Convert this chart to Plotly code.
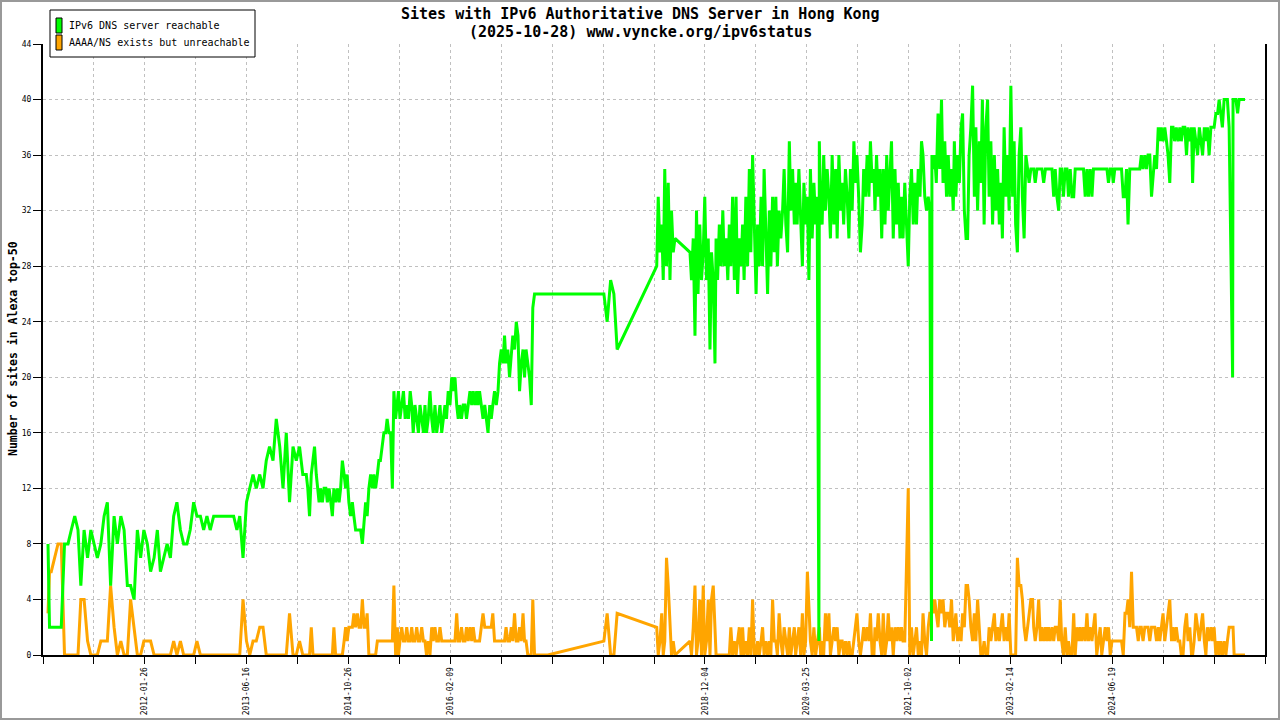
import pandas as pd
import plotly.graph_objects as go

MONO = "DejaVu Sans Mono"
GREEN = "#00ff00"
ORANGE = "#ffa500"

# --- sample dates (twice a month to 2013, weekly-ish afterwards) ---
dates = [
    "2010-10-01", "2010-10-08", "2010-10-16", "2010-11-01", "2010-11-16", "2010-12-01", "2010-12-16",
    "2011-01-01", "2011-01-16", "2011-02-01", "2011-02-16", "2011-03-01", "2011-03-16", "2011-04-01", "2011-04-16",
    "2011-05-01", "2011-05-16", "2011-06-01", "2011-06-16", "2011-07-01", "2011-07-16", "2011-08-01", "2011-08-16",
    "2011-09-01", "2011-09-16", "2011-10-01", "2011-10-16", "2011-11-01", "2011-11-16", "2011-12-01", "2011-12-16",
    "2012-01-01", "2012-01-16", "2012-02-01", "2012-02-16", "2012-03-01", "2012-03-16", "2012-04-01", "2012-04-16",
    "2012-05-01", "2012-05-16", "2012-06-01", "2012-06-16", "2012-07-01", "2012-07-16", "2012-08-01", "2012-08-16",
    "2012-09-01", "2012-09-16", "2012-10-01", "2012-10-16", "2012-11-01", "2012-11-16", "2012-12-01", "2012-12-16",
    "2013-01-01", "2013-01-16", "2013-02-01", "2013-02-16", "2013-03-01", "2013-03-16", "2013-04-01", "2013-04-16",
    "2013-05-01", "2013-05-16", "2013-06-01", "2013-06-16", "2013-07-01", "2013-07-16", "2013-08-01", "2013-08-16",
    "2013-09-01", "2013-09-16", "2013-10-01", "2013-10-16", "2013-11-01", "2013-11-16", "2013-12-01", "2013-12-16",
    "2014-01-01", "2014-01-08", "2014-01-16", "2014-01-24", "2014-02-01", "2014-02-08", "2014-02-16", "2014-02-24",
    "2014-03-01", "2014-03-08", "2014-03-16", "2014-03-24", "2014-04-01", "2014-04-08", "2014-04-16", "2014-04-24",
    "2014-05-01", "2014-05-08", "2014-05-16", "2014-05-24", "2014-06-01", "2014-06-08", "2014-06-16", "2014-06-24",
    "2014-07-01", "2014-07-08", "2014-07-16", "2014-07-24", "2014-08-01", "2014-08-08", "2014-08-16", "2014-08-24",
    "2014-09-01", "2014-09-08", "2014-09-16", "2014-09-24", "2014-10-01", "2014-10-08", "2014-10-16", "2014-10-24",
    "2014-11-01", "2014-11-08", "2014-11-16", "2014-11-24", "2014-12-01", "2014-12-08", "2014-12-16", "2014-12-24",
    "2015-01-01", "2015-01-08", "2015-01-16", "2015-01-24", "2015-02-01", "2015-02-08", "2015-02-16", "2015-02-24",
    "2015-03-01", "2015-03-08", "2015-03-16", "2015-03-24", "2015-04-01", "2015-04-08", "2015-04-16", "2015-04-24",
    "2015-05-01", "2015-05-08", "2015-05-16", "2015-05-24", "2015-06-01", "2015-06-08", "2015-06-16", "2015-06-24",
    "2015-07-01", "2015-07-08", "2015-07-16", "2015-07-24", "2015-08-01", "2015-08-08", "2015-08-16", "2015-08-24",
    "2015-09-01", "2015-09-08", "2015-09-16", "2015-09-24", "2015-10-01", "2015-10-08", "2015-10-16", "2015-10-24",
    "2015-11-01", "2015-11-08", "2015-11-16", "2015-11-24", "2015-12-01", "2015-12-08", "2015-12-16", "2015-12-24",
    "2016-01-01", "2016-01-08", "2016-01-16", "2016-01-24", "2016-02-01", "2016-02-08", "2016-02-16", "2016-02-24",
    "2016-03-01", "2016-03-08", "2016-03-16", "2016-03-24", "2016-04-01", "2016-04-08", "2016-04-16", "2016-04-24",
    "2016-05-01", "2016-05-08", "2016-05-16", "2016-05-24", "2016-06-01", "2016-06-08", "2016-06-16", "2016-06-24",
    "2016-07-01", "2016-07-08", "2016-07-16", "2016-07-24", "2016-08-01", "2016-08-08", "2016-08-16", "2016-08-24",
    "2016-09-01", "2016-09-08", "2016-09-16", "2016-09-24", "2016-10-01", "2016-10-08", "2016-10-16", "2016-10-24",
    "2016-11-01", "2016-11-08", "2016-11-16", "2016-11-24", "2016-12-01", "2016-12-08", "2016-12-16", "2016-12-24",
    "2017-01-01", "2017-01-16",
    "2017-10-01", "2017-10-16", "2017-11-01", "2017-11-16", "2017-12-01",
    "2018-06-01", "2018-06-08", "2018-06-16", "2018-06-24", "2018-07-01", "2018-07-08", "2018-07-16", "2018-07-24",
    "2018-08-01", "2018-08-08", "2018-08-16", "2018-08-24",
    "2018-11-01", "2018-11-08", "2018-11-16", "2018-11-24", "2018-12-01", "2018-12-08", "2018-12-16", "2018-12-24",
    "2019-01-01", "2019-01-08", "2019-01-16", "2019-01-24", "2019-02-01", "2019-02-08", "2019-02-16", "2019-02-24",
    "2019-03-01", "2019-03-08", "2019-03-16", "2019-03-24", "2019-04-01", "2019-04-08", "2019-04-16", "2019-04-24",
    "2019-05-01", "2019-05-08", "2019-05-16", "2019-05-24", "2019-06-01", "2019-06-08", "2019-06-16", "2019-06-24",
    "2019-07-01", "2019-07-08", "2019-07-16", "2019-07-24", "2019-08-01", "2019-08-08", "2019-08-16", "2019-08-24",
    "2019-09-01", "2019-09-08", "2019-09-16", "2019-09-24", "2019-10-01", "2019-10-08", "2019-10-16", "2019-10-24",
    "2019-11-01", "2019-11-08", "2019-11-16", "2019-11-24", "2019-12-01", "2019-12-08", "2019-12-16", "2019-12-24",
    "2020-01-01", "2020-01-08", "2020-01-16", "2020-01-24", "2020-02-01", "2020-02-08", "2020-02-16", "2020-02-24",
    "2020-03-01", "2020-03-08", "2020-03-16", "2020-03-24", "2020-04-01", "2020-04-08", "2020-04-16", "2020-04-24",
    "2020-05-01", "2020-05-08", "2020-05-16", "2020-05-24", "2020-06-01", "2020-06-08", "2020-06-16", "2020-06-18",
    "2020-06-24",
    "2020-07-01", "2020-07-08", "2020-07-16", "2020-07-24", "2020-08-01", "2020-08-08", "2020-08-16", "2020-08-24",
    "2020-09-01", "2020-09-08", "2020-09-16", "2020-09-24", "2020-10-01", "2020-10-08", "2020-10-16", "2020-10-24",
    "2020-11-01", "2020-11-08", "2020-11-16", "2020-11-24", "2020-12-01", "2020-12-08", "2020-12-16", "2020-12-24",
    "2021-01-01", "2021-01-08", "2021-01-16", "2021-01-24", "2021-02-01", "2021-02-08", "2021-02-16", "2021-02-24",
    "2021-03-01", "2021-03-08", "2021-03-16", "2021-03-24", "2021-04-01", "2021-04-08", "2021-04-16", "2021-04-24",
    "2021-05-01", "2021-05-08", "2021-05-16", "2021-05-24", "2021-06-01", "2021-06-08", "2021-06-16", "2021-06-24",
    "2021-07-01", "2021-07-08", "2021-07-16", "2021-07-24", "2021-08-01", "2021-08-08", "2021-08-16", "2021-08-24",
    "2021-09-01", "2021-09-08", "2021-09-16", "2021-09-24", "2021-10-01", "2021-10-08", "2021-10-16", "2021-10-24",
    "2021-11-01", "2021-11-08", "2021-11-16", "2021-11-18", "2021-11-24",
    "2021-12-01", "2021-12-08", "2021-12-16", "2021-12-24",
    "2022-01-01", "2022-01-08", "2022-01-16", "2022-01-24", "2022-02-01", "2022-02-08", "2022-02-16", "2022-02-24",
    "2022-03-01", "2022-03-08", "2022-03-16", "2022-03-24", "2022-04-01", "2022-04-08", "2022-04-16", "2022-04-24",
    "2022-05-01", "2022-05-08", "2022-05-16", "2022-05-24", "2022-06-01", "2022-06-08", "2022-06-16", "2022-06-24",
    "2022-07-01", "2022-07-08", "2022-07-16", "2022-07-24", "2022-08-01", "2022-08-08", "2022-08-16", "2022-08-24",
    "2022-09-01", "2022-09-08", "2022-09-16", "2022-09-24", "2022-10-01", "2022-10-08", "2022-10-16", "2022-10-24",
    "2022-11-01", "2022-11-08", "2022-11-16", "2022-11-24", "2022-12-01", "2022-12-08", "2022-12-16", "2022-12-24",
    "2023-01-01", "2023-01-08", "2023-01-16", "2023-01-24", "2023-02-01", "2023-02-08", "2023-02-16", "2023-02-24",
    "2023-03-01", "2023-03-08", "2023-03-16", "2023-03-24", "2023-04-01", "2023-04-08", "2023-04-16", "2023-04-24",
    "2023-05-01", "2023-05-08", "2023-05-16", "2023-05-24", "2023-06-01", "2023-06-08", "2023-06-16", "2023-06-24",
    "2023-07-01", "2023-07-08", "2023-07-16", "2023-07-24", "2023-08-01", "2023-08-08", "2023-08-16", "2023-08-24",
    "2023-09-01", "2023-09-08", "2023-09-16", "2023-09-24", "2023-10-01", "2023-10-08", "2023-10-16", "2023-10-24",
    "2023-11-01", "2023-11-08", "2023-11-16", "2023-11-24", "2023-12-01", "2023-12-08", "2023-12-16", "2023-12-24",
    "2024-01-01", "2024-01-08", "2024-01-16", "2024-01-24", "2024-02-01", "2024-02-08", "2024-02-16", "2024-02-24",
    "2024-03-01", "2024-03-08", "2024-03-16", "2024-03-24", "2024-04-01", "2024-04-08", "2024-04-16", "2024-04-24",
    "2024-05-01", "2024-05-08", "2024-05-16", "2024-05-24", "2024-06-01", "2024-06-08", "2024-06-16", "2024-06-24",
    "2024-07-01", "2024-07-08", "2024-07-16", "2024-07-24", "2024-08-01", "2024-08-08", "2024-08-16", "2024-08-24",
    "2024-09-01", "2024-09-08", "2024-09-16", "2024-09-24", "2024-10-01", "2024-10-08", "2024-10-16", "2024-10-24",
    "2024-11-01", "2024-11-08", "2024-11-16", "2024-11-24", "2024-12-01", "2024-12-08", "2024-12-16", "2024-12-24",
    "2025-01-01", "2025-01-08", "2025-01-16", "2025-01-24", "2025-02-01", "2025-02-08", "2025-02-16", "2025-02-24",
    "2025-03-01", "2025-03-08", "2025-03-16", "2025-03-24", "2025-04-01", "2025-04-08", "2025-04-16", "2025-04-24",
    "2025-05-01", "2025-05-08", "2025-05-16", "2025-05-24", "2025-06-01", "2025-06-08", "2025-06-16", "2025-06-24",
    "2025-07-01", "2025-07-08", "2025-07-16", "2025-07-24", "2025-08-01", "2025-08-08", "2025-08-16", "2025-08-24",
    "2025-09-01", "2025-09-03", "2025-09-08", "2025-09-16", "2025-09-24",
    "2025-10-01", "2025-10-08", "2025-10-16", "2025-10-24", "2025-10-28",
]

# IPv6 DNS server reachable
reachable = [
    8, 2, 2, 2, 2, 2, 8,
    8, 9, 10, 9, 5, 9, 7, 9, 8, 7, 8, 10, 11, 5, 10, 8, 10, 9, 5, 5, 4, 9, 7, 9,
    8, 6, 7, 9, 6, 7, 8, 7, 10, 11, 9, 8, 8, 9, 11, 10, 10, 9, 10, 9, 10, 10, 10, 10,
    10, 10, 10, 9, 10, 7, 11, 12, 13, 12, 13, 12, 14, 15, 14, 17, 15, 12, 16, 11, 15, 14, 15, 13,
    # 2014
    13, 12, 10, 13, 14, 15, 13, 12, 11, 12, 11, 12, 12, 11, 12, 11,
    10, 12, 11, 12, 11, 12, 14, 13, 12, 13, 11, 10, 11, 10, 9, 9,
    9, 9, 8, 10, 11, 10, 12, 13, 12, 13, 12, 13, 14, 14, 15, 16,
    # 2015
    16, 17, 16, 16, 12, 19, 17, 18, 19, 17, 18, 19, 17, 18, 17, 19,
    18, 16, 18, 17, 16, 18, 17, 16, 18, 16, 17, 19, 17, 16, 18, 16,
    17, 18, 16, 17, 18, 17, 19, 18, 20, 19, 20, 18, 17, 18, 17, 18,
    # 2016
    18, 17, 18, 19, 18, 19, 18, 19, 18, 19, 18, 17, 18, 17, 16, 18,
    17, 18, 19, 18, 19, 21, 22, 21, 23, 21, 22, 20, 22, 23, 22, 24,
    23, 19, 21, 22, 20, 22, 21, 20, 18, 25, 26, 26, 26, 26, 26, 26,
    26, 26,
    26, 24, 27, 26, 22,
    # 2018
    28, 33, 29, 31, 27, 35, 28, 34, 27, 32, 29, 30,
    29, 27, 30, 23, 32, 26, 31, 27,
    # 2019
    29, 33, 27, 30, 22, 29, 27, 21, 30, 27, 31, 28, 32, 28, 30, 27,
    31, 28, 33, 27, 33, 26, 30, 28, 31, 27, 33, 28, 35, 29, 36, 30,
    26, 31, 28, 33, 28, 35, 30, 26, 32, 28, 33, 29, 33, 28, 32, 30,
    # 2020
    32, 35, 31, 29, 37, 32, 35, 31, 34, 31, 35, 32, 28, 34, 31, 33,
    27, 35, 30, 34, 31, 33, 1, 37, 32,
    31, 36, 32, 35, 33, 30, 36, 31, 35, 30, 36, 32, 34, 31, 35, 33,
    30, 35, 32, 37, 34, 36, 33, 29,
    # 2021
    31, 35, 33, 36, 33, 37, 34, 35, 32, 36, 33, 35, 30, 35, 31, 36,
    32, 34, 37, 30, 35, 31, 34, 30, 33, 30, 34, 31, 28, 33, 35, 31,
    34, 31, 35, 33, 37, 36, 33, 32, 33, 32, 1, 36, 35,
    36, 34, 39, 35,
    # 2022
    40, 34, 37, 33, 36, 33, 35, 32, 37, 33, 36, 34, 38, 39, 32, 30,
    30, 36, 38, 41, 33, 38, 32, 37, 34, 40, 31, 38, 40, 33, 37, 31,
    36, 32, 35, 31, 34, 30, 38, 33, 36, 32, 41, 33, 37, 31, 29, 36,
    # 2023
    38, 33, 30, 36, 35, 34, 35, 35, 35, 34, 35, 35, 35, 35, 34, 35,
    35, 35, 35, 35, 33, 35, 33, 32, 35, 35, 33, 35, 35, 33, 35, 33,
    33, 35, 35, 35, 35, 35, 35, 33, 35, 33, 35, 33, 35, 35, 35, 35,
    # 2024
    35, 35, 35, 35, 35, 34, 35, 35, 34, 35, 35, 35, 35, 35, 33, 33,
    35, 31, 35, 35, 35, 35, 35, 35, 35, 36, 35, 36, 35, 36, 36, 33,
    35, 36, 35, 38, 37, 38, 37, 38, 37, 36, 34, 38, 38, 37, 38, 37,
    # 2025
    38, 37, 38, 38, 36, 38, 37, 38, 34, 38, 37, 36, 38, 37, 36, 38,
    37, 38, 36, 38, 38, 38, 39, 39, 40, 39, 38, 40, 40, 40, 38, 30,
    20, 40, 40, 40, 39,
    40, 40, 40, 40, 40,
]

# AAAA/NS exists but unreachable
unreachable = [
    3, 6, 6, 7, 8, 8, 0,
    0, 0, 0, 0, 4, 4, 1, 0, 0, 0, 1, 1, 1, 5, 2, 0, 1, 0, 0, 4, 2, 0, 0, 1,
    1, 1, 0, 0, 0, 0, 0, 0, 1, 0, 1, 0, 0, 0, 0, 1, 0, 0, 0, 0, 0, 0, 0, 0,
    0, 0, 0, 0, 0, 4, 1, 0, 1, 1, 2, 2, 0, 0, 0, 0, 0, 0, 0, 3, 0, 0, 1, 0,
    # 2014
    0, 0, 0, 2, 0, 0, 0, 0, 0, 0, 0, 0, 0, 0, 0, 0,
    0, 2, 0, 0, 0, 0, 0, 1, 2, 1, 2, 2, 2, 3, 2, 3,
    2, 2, 4, 2, 2, 3, 0, 0, 0, 0, 0, 1, 1, 1, 1, 1,
    # 2015
    1, 1, 1, 1, 1, 5, 0, 2, 0, 1, 2, 1, 1, 2, 1, 1,
    2, 1, 1, 2, 1, 1, 2, 1, 1, 0, 1, 0, 2, 1, 2, 1,
    1, 2, 1, 1, 1, 1, 1, 1, 1, 1, 1, 3, 1, 1, 2, 1,
    # 2016
    1, 2, 1, 2, 1, 2, 1, 1, 1, 1, 2, 3, 2, 2, 2, 2,
    2, 3, 1, 1, 1, 1, 1, 1, 1, 2, 1, 1, 2, 1, 3, 1,
    1, 2, 1, 3, 1, 1, 0, 0, 0, 4, 0, 0, 0, 0, 0, 0,
    0, 0,
    1, 3, 0, 0, 3,
    # 2018
    2, 0, 1, 3, 0, 1, 7, 5, 2, 0, 1, 0,
    1, 0, 2, 5, 0, 1, 4, 0,
    # 2019
    5, 0, 1, 4, 0, 4, 5, 1, 0, 0, 0, 0, 0, 0, 0, 0,
    0, 2, 0, 1, 0, 1, 2, 0, 2, 0, 1, 0, 2, 0, 4, 0,
    0, 1, 0, 1, 2, 0, 1, 0, 1, 0, 4, 1, 1, 0, 3, 1,
    # 2020
    0, 2, 1, 0, 2, 0, 1, 2, 0, 1, 2, 0, 3, 0, 1, 6,
    3, 1, 0, 2, 0, 1, 2, 2, 0,
    1, 0, 3, 1, 3, 0, 1, 2, 1, 2, 0, 1, 1, 0, 1, 0,
    1, 0, 0, 1, 2, 3, 1, 0,
    # 2021
    1, 2, 1, 2, 1, 3, 0, 0, 2, 1, 3, 1, 0, 3, 0, 1,
    3, 1, 2, 0, 2, 1, 2, 1, 2, 1, 1, 8, 12, 0, 2, 0,
    1, 2, 0, 1, 0, 3, 1, 0, 2, 3, 3, 4, 3,
    4, 3, 2, 4,
    # 2022
    3, 4, 2, 3, 3, 2, 4, 1, 2, 3, 1, 2, 1, 3, 2, 5,
    5, 4, 2, 1, 3, 1, 4, 2, 0, 0, 1, 0, 0, 2, 1, 2,
    3, 1, 2, 1, 2, 3, 1, 2, 1, 3, 0, 0, 0, 0, 7, 5,
    # 2023
    5, 4, 2, 1, 2, 3, 4, 4, 2, 1, 2, 4, 1, 2, 1, 2,
    1, 2, 1, 2, 1, 2, 2, 1, 4, 1, 0, 2, 0, 1, 0, 0,
    3, 0, 2, 1, 2, 1, 2, 1, 3, 1, 2, 1, 2, 3, 0, 1,
    # 2024
    2, 0, 1, 2, 1, 2, 0, 1, 1, 1, 1, 1, 1, 1, 0, 3,
    3, 4, 2, 6, 2, 2, 2, 1, 2, 2, 1, 2, 2, 2, 1, 2,
    2, 2, 1, 2, 1, 2, 3, 1, 2, 3, 4, 1, 2, 1, 2, 1,
    # 2025
    1, 0, 0, 2, 3, 1, 2, 0, 0, 1, 3, 2, 1, 2, 3, 1,
    0, 2, 1, 2, 1, 2, 0, 1, 0, 1, 0, 1, 0, 1, 2, 2,
    2, 2, 0, 0, 0,
    0, 0, 0, 0, 0,
]

# x axis: 24 even intervals, only some carry a date label
x_start, x_end = "2010-09-08", "2026-01-28"
label_slots = [2, 4, 6, 8, 13, 15, 17, 19, 21]
label_text = ["2012-01-26", "2013-06-16", "2014-10-26", "2016-02-09",
              "2018-12-04", "2020-03-25", "2021-10-02", "2023-02-14", "2024-06-19"]
y_ticks = [0, 4, 8, 12, 16, 20, 24, 28, 32, 36, 40, 44]

x = pd.to_datetime(dates)

fig = go.Figure()
fig.add_trace(go.Scatter(x=x, y=unreachable, mode="lines", name="AAAA/NS exists but unreachable",
                         line=dict(color=ORANGE, width=3), hoverinfo="skip"))
fig.add_trace(go.Scatter(x=x, y=reachable, mode="lines", name="IPv6 DNS server reachable",
                         line=dict(color=GREEN, width=3), hoverinfo="skip"))

t0, t1 = pd.Timestamp(x_start), pd.Timestamp(x_end)
tick_vals = [t0 + (t1 - t0) * i / 24 for i in range(25)]
tick_text = [""] * 25
for s, t in zip(label_slots, label_text):
    tick_text[s] = t

# pixel -> paper helpers for the hand drawn legend / frame / titles
L, R, T, B = 43, 1265, 44, 655
def fx(p): return (p - L) / (R - L)
def fy(p): return (B - p) / (B - T)

shapes = [
    dict(type="rect", xref="paper", yref="paper", x0=fx(1), x1=fx(1279), y0=fy(719), y1=fy(1),
         line=dict(color="#999999", width=2)),
    dict(type="rect", xref="paper", yref="paper", x0=fx(50), x1=fx(255), y0=fy(57), y1=fy(10),
         line=dict(color="black", width=1), fillcolor="white"),
    dict(type="rect", xref="paper", yref="paper", x0=fx(56), x1=fx(62), y0=fy(33), y1=fy(18),
         line=dict(color="black", width=1), fillcolor=GREEN),
    dict(type="rect", xref="paper", yref="paper", x0=fx(56), x1=fx(62), y0=fy(50), y1=fy(35),
         line=dict(color="black", width=1), fillcolor=ORANGE),
]

def txt(s, px, py, size, bold=False, anchor="center", angle=0):
    return dict(text=f"<b>{s}</b>" if bold else s, xref="paper", yref="paper", x=fx(px), y=fy(py),
                xanchor=anchor, yanchor="middle", textangle=angle, showarrow=False,
                font=dict(family=MONO, size=size, color="black"))

annotations = [
    txt("Sites with IPv6 Authoritative DNS Server in Hong Kong", 640, 14, 15, bold=True),
    txt("(2025-10-28) www.vyncke.org/ipv6status", 640, 32, 15, bold=True),
    txt("IPv6 DNS server reachable", 67, 25.5, 10, anchor="left"),
    txt("AAAA/NS exists but unreachable", 67, 42.5, 10, anchor="left"),
    txt("Number of sites in Alexa top-50", 13, 349, 11.5, bold=True, angle=-90),
]

fig.update_layout(
    width=1280, height=720,
    margin=dict(l=L, r=1280 - R, t=T, b=720 - B),
    paper_bgcolor="white", plot_bgcolor="white",
    showlegend=False,
    xaxis=dict(
        type="date", range=[t0, t1], tickmode="array", tickvals=tick_vals, ticktext=tick_text,
        tickangle=-90, tickfont=dict(family=MONO, size=8, color="black"),
        ticks="outside", ticklen=7, tickcolor="black", tickwidth=1, automargin=False,
        showline=True, linecolor="black", linewidth=2,
        showgrid=True, gridcolor="#c0c0c0", griddash="dot", gridwidth=1, zeroline=False,
    ),
    yaxis=dict(
        range=[0, 44], tickmode="array", tickvals=y_ticks, automargin=False,
        tickfont=dict(family=MONO, size=8, color="black"),
        ticks="outside", ticklen=8, tickcolor="black", tickwidth=1,
        showline=True, linecolor="black", linewidth=2, mirror=True,
        showgrid=True, gridcolor="#c0c0c0", griddash="dot", gridwidth=1, zeroline=False,
    ),
    shapes=shapes,
    annotations=annotations,
)

fig.write_html("out.html", config={"displayModeBar": False},
               post_script="document.body.style.margin = '0px';")
